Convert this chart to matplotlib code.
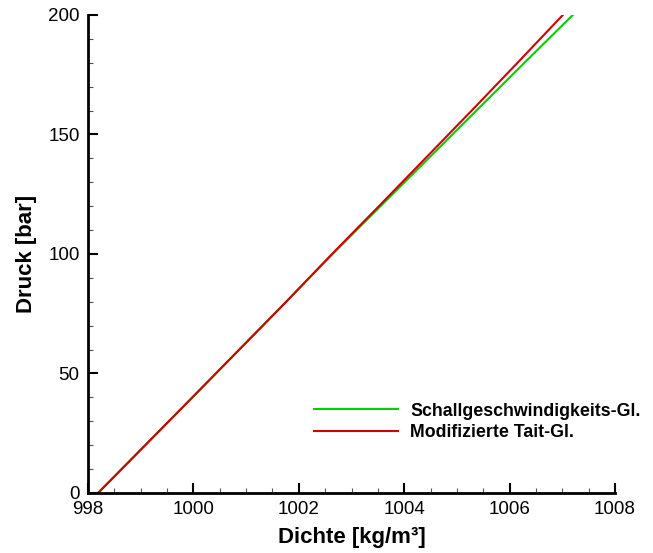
import numpy as np
import matplotlib.pyplot as plt

plt.rcParams['font.family'] = ['Liberation Sans', 'DejaVu Sans']

# pressure [bar] and density [kg/m3]
p = [0, 40, 80, 100, 120, 140, 160, 180, 200]
rho_schall = [998.19, 999.98, 1001.76, 1002.64, 1003.55, 1004.46, 1005.37, 1006.28, 1007.20]
rho_tait = [998.19, 999.98, 1001.76, 1002.63, 1003.52, 1004.40, 1005.28, 1006.15, 1007.01]

fig = plt.figure(figsize=(6.53, 5.53), dpi=100)
ax = fig.add_axes([0.1348, 0.1085, 0.807, 0.8644])

ax.plot(rho_schall, p, color='#00d000', linewidth=1.5, label='Schallgeschwindigkeits-Gl.')
ax.plot(rho_tait, p, color='#d00000', linewidth=1.5, label='Modifizierte Tait-Gl.')

ax.set_xlim(998, 1008)
ax.set_ylim(0, 200)
ax.set_xticks(np.arange(998, 1009, 2))
ax.set_xticks(np.arange(998, 1008.1, 0.5), minor=True)
ax.set_yticks(np.arange(0, 201, 50))
ax.set_yticks(np.arange(0, 201, 10), minor=True)

for s in ['top', 'right']:
    ax.spines[s].set_visible(False)
for s in ['left', 'bottom']:
    ax.spines[s].set_linewidth(2)

ax.tick_params(which='major', direction='in', length=7, width=1.5, labelsize=13.5, pad=6)
ax.tick_params(which='minor', direction='in', length=3.5, width=0.8, color='#555555')

ax.set_xlabel('Dichte [kg/m³]', fontsize=16, fontweight='bold', labelpad=6)
ax.set_ylabel('Druck [bar]', fontsize=16, fontweight='bold', labelpad=8)

ax.legend(loc='center left', bbox_to_anchor=(0.429, 0.149), frameon=False,
          borderpad=0, borderaxespad=0,
          prop={'size': 12.8, 'weight': 'bold'}, handlelength=4.7, handletextpad=0.7,
          labelspacing=0.25)

fig.savefig('out.png', dpi=100)
